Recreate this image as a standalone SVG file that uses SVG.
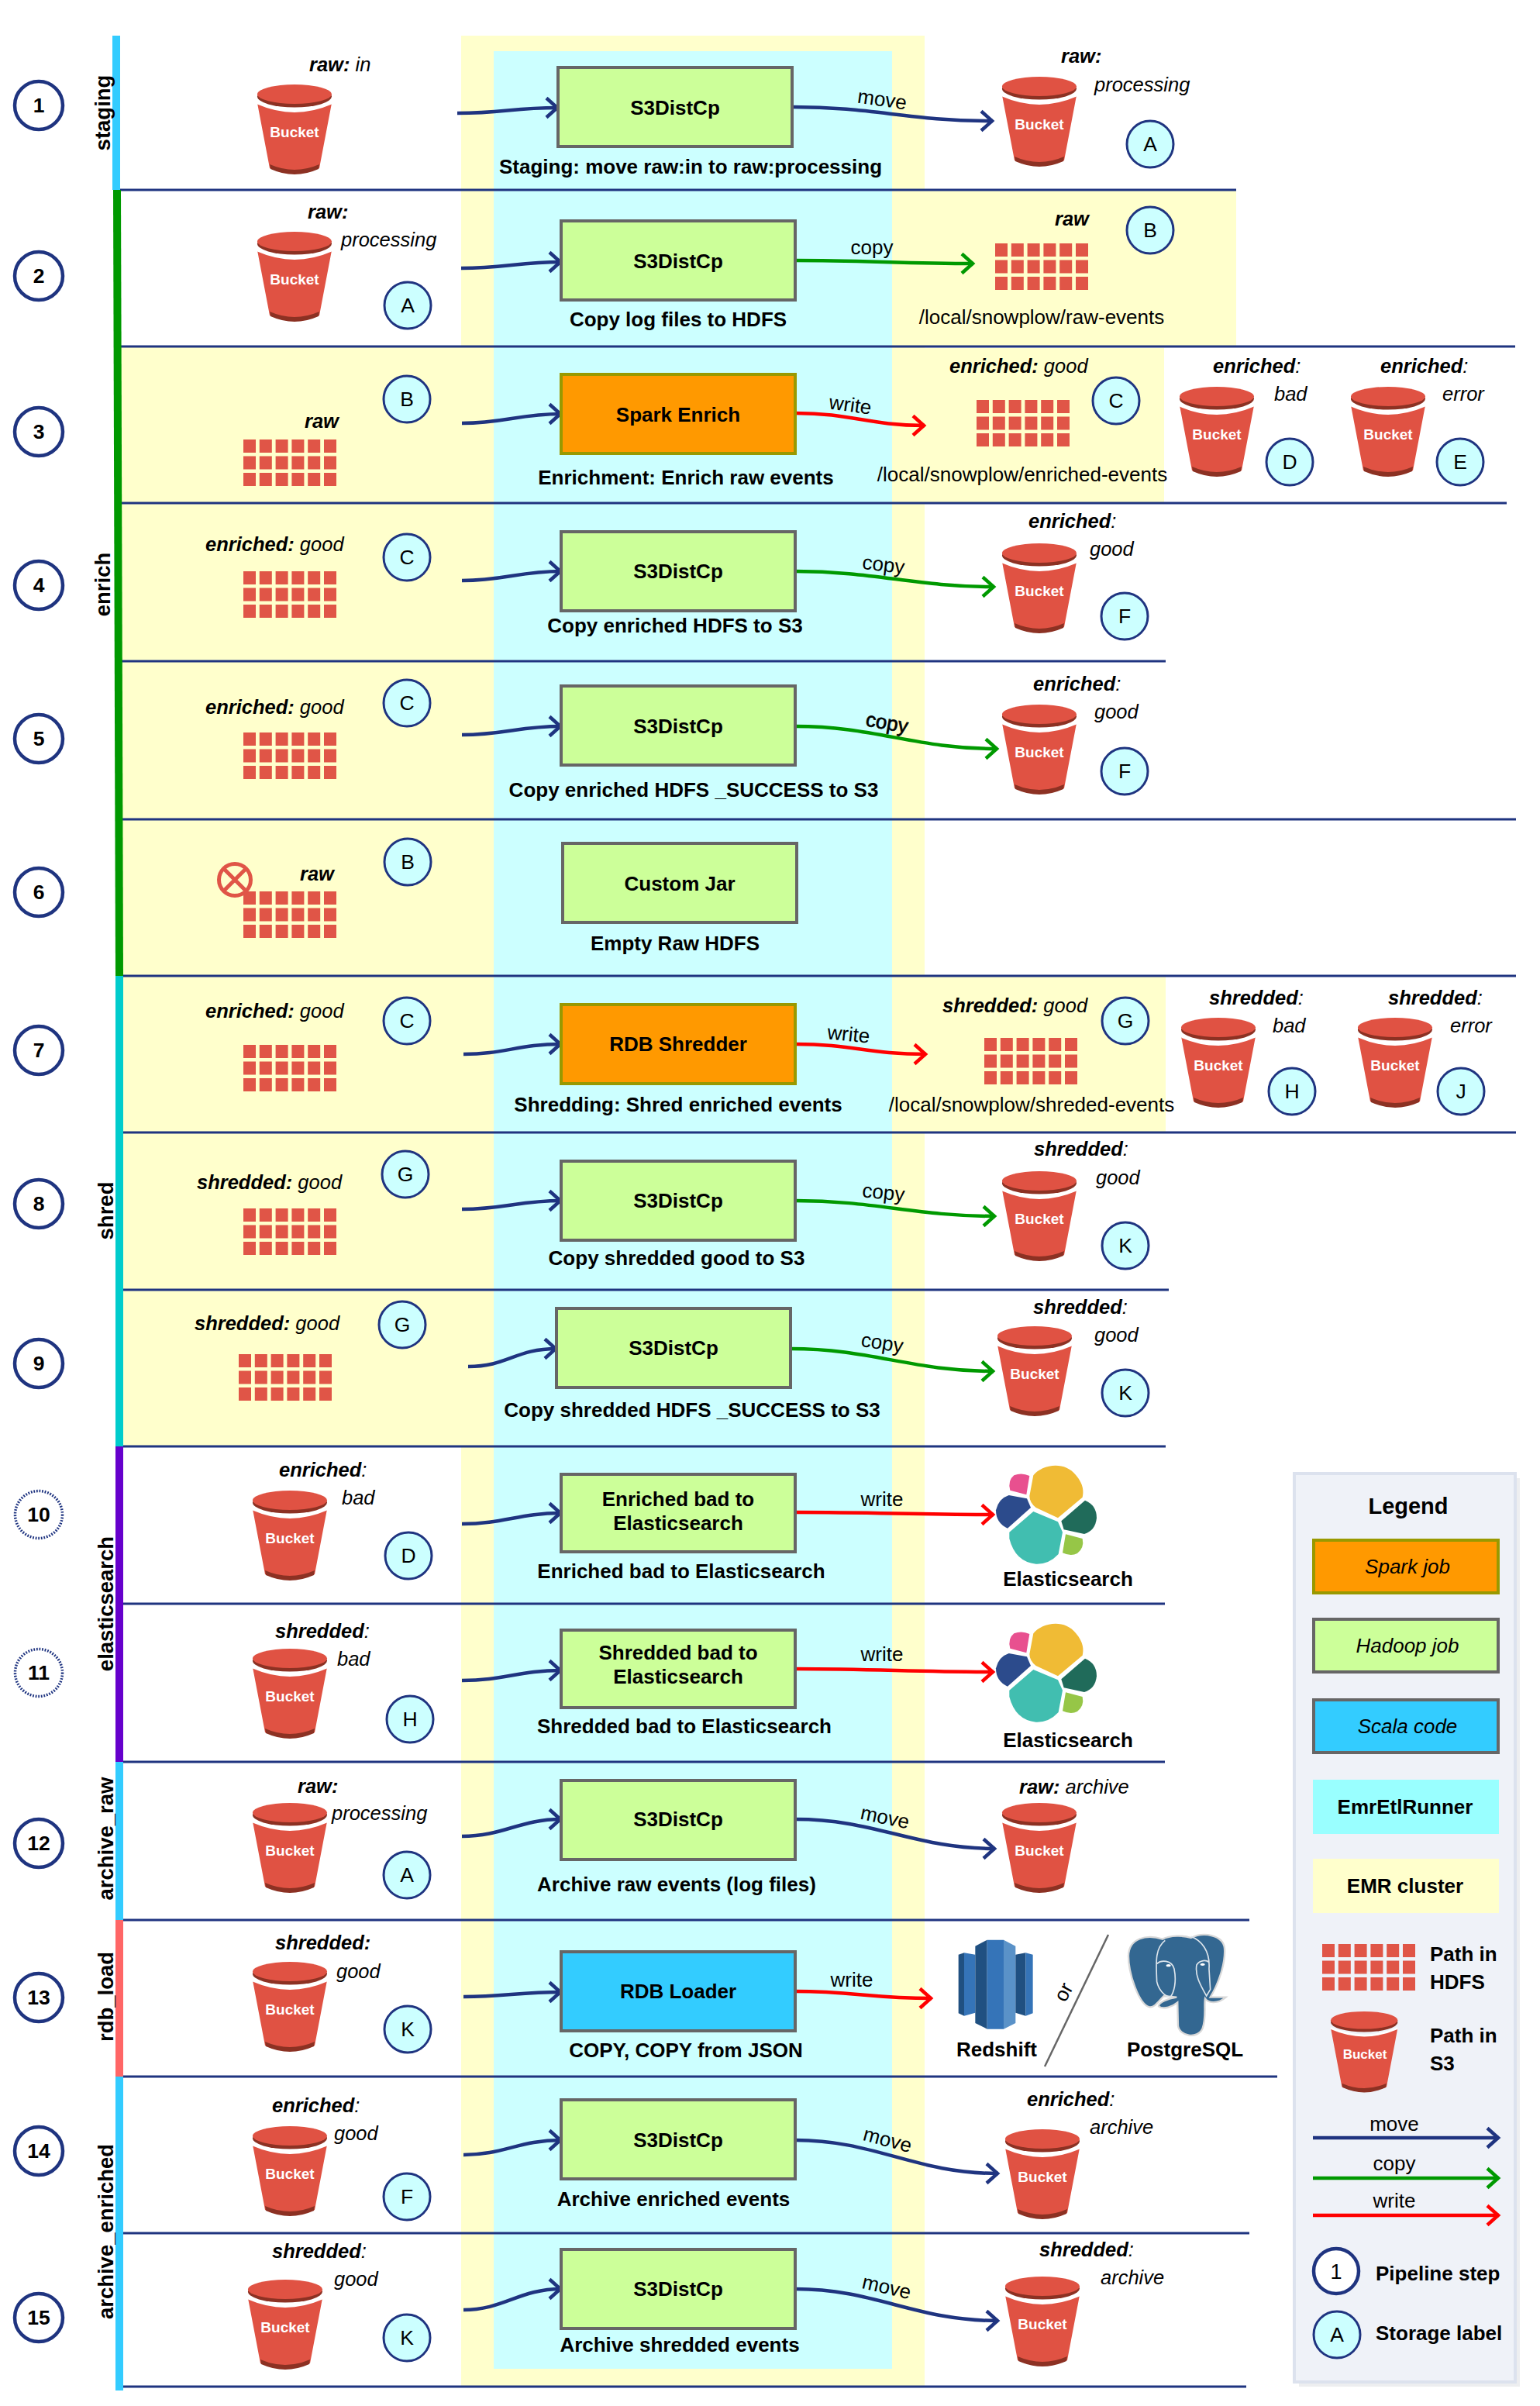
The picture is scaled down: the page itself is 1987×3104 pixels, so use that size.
<svg xmlns="http://www.w3.org/2000/svg" width="1987" height="3104" viewBox="0 0 1987 3104">
<style>
text{font-family:"Liberation Sans",Arial,sans-serif;fill:#000}
.ln{stroke:#1F3480;stroke-width:3;fill:none}
.y{fill:#FFFFCC}.c{fill:#CCFFFF}
.box{stroke-width:4}
.h{fill:#CCFF99;stroke:#666}.s{fill:#FF9900;stroke:#999900}.b{fill:#33CCFF;stroke:#666}
.t{font-size:26px;font-weight:bold;text-anchor:middle}
.sub{font-size:26px;font-weight:bold;text-anchor:middle}
.side{font-size:27.5px;font-weight:bold;text-anchor:middle}
.st{fill:#fff;stroke:#1F3480;stroke-width:4.5}
.stt{font-size:26.5px;font-weight:bold;text-anchor:middle}
.dot{stroke-width:3.5;stroke-dasharray:1.8 1.8}
.lb{fill:#CCFFFF;stroke:#1F3480;stroke-width:3}
.lbt{font-size:26.5px;text-anchor:middle}
.bk{font-size:19px;font-weight:bold;text-anchor:middle;fill:#fff}
.i{font-size:25.5px;font-style:italic}
.bi{font-weight:bold}
.e{font-size:26px;text-anchor:middle}
.mv,.cp,.wr{fill:none;stroke-width:4.5}
.mv{stroke:#1F3480;marker-end:url(#am)}.cp{stroke:#009900;marker-end:url(#ac)}.wr{stroke:#FF0000;marker-end:url(#aw)}
.lg{font-size:26px;font-weight:bold}
.lgi{font-size:26px;font-style:italic;text-anchor:middle}
</style>
<defs>
<marker id="am" markerUnits="userSpaceOnUse" viewBox="-18 -16 22 32" markerWidth="22" markerHeight="32" refX="1" refY="0" orient="auto"><path d="M-14,-12.5 L0,0 L-14,12.5" fill="none" stroke="#1F3480" stroke-width="4.5"/></marker>
<marker id="ac" markerUnits="userSpaceOnUse" viewBox="-18 -16 22 32" markerWidth="22" markerHeight="32" refX="1" refY="0" orient="auto"><path d="M-14,-12.5 L0,0 L-14,12.5" fill="none" stroke="#009900" stroke-width="4.5"/></marker>
<marker id="aw" markerUnits="userSpaceOnUse" viewBox="-18 -16 22 32" markerWidth="22" markerHeight="32" refX="1" refY="0" orient="auto"><path d="M-14,-12.5 L0,0 L-14,12.5" fill="none" stroke="#FF0000" stroke-width="4.5"/></marker>
<symbol id="bucket" width="96" height="116" viewBox="0 0 96 116" overflow="visible">
<path d="M0,24 Q48,46 96,24 L80,108 Q48,122 16,108 Z" fill="#E05243"/>
<path d="M16,103 L17,109 Q48,123 79,109 L80,103 Q48,117 16,103 Z" fill="#8C3123"/>
<path d="M0,24 Q48,45 96,24" fill="none" stroke="#fff" stroke-width="3"/>
<ellipse cx="48" cy="15.500" rx="48" ry="14" fill="#8C3123"/>
<ellipse cx="48" cy="12.500" rx="48" ry="12.500" fill="#E05243"/>
</symbol>
<symbol id="grid" width="120" height="60" viewBox="0 0 120 60"><g fill="#E05547">
<rect x="0" y="0" width="16" height="17"/><rect x="20.800" y="0" width="16" height="17"/><rect x="41.600" y="0" width="16" height="17"/><rect x="62.400" y="0" width="16" height="17"/><rect x="83.200" y="0" width="16" height="17"/><rect x="104" y="0" width="16" height="17"/>
<rect x="0" y="21.500" width="16" height="17"/><rect x="20.800" y="21.500" width="16" height="17"/><rect x="41.600" y="21.500" width="16" height="17"/><rect x="62.400" y="21.500" width="16" height="17"/><rect x="83.200" y="21.500" width="16" height="17"/><rect x="104" y="21.500" width="16" height="17"/>
<rect x="0" y="43" width="16" height="17"/><rect x="20.800" y="43" width="16" height="17"/><rect x="41.600" y="43" width="16" height="17"/><rect x="62.400" y="43" width="16" height="17"/><rect x="83.200" y="43" width="16" height="17"/><rect x="104" y="43" width="16" height="17"/>
</g></symbol>
<g id="elastic">
<path d="M400,70 C430,30 520,10 565,70 C595,105 595,135 590,155 L495,235 L410,195 Q385,175 385,150 Z" fill="#F0BB35"/>
<path d="M385,72 L373,145 L310,128 Q300,90 325,70 Q355,58 385,72Z" fill="#E8508F"/>
<path d="M305,147 L375,160 L390,195 L300,275 Q255,255 255,205 Q265,160 305,147Z" fill="#2C4B8C"/>
<path d="M400,210 L495,250 L513,290 L497,375 Q460,415 410,413 Q330,405 307,315 L307,290Z" fill="#41BEB0"/>
<path d="M600,167 Q645,185 645,235 Q640,285 597,297 L518,280 L508,247Z" fill="#206B5A"/>
<path d="M525,298 L590,315 Q598,350 570,372 Q545,385 513,370Z" fill="#96C647"/>
</g>
</defs>
<rect width="1987" height="3104" fill="#fff"/>
<g id="backgrounds">
<rect class="y" x="595" y="46" width="598" height="3033"/>
<rect class="y" x="1150" y="245" width="445" height="202"/>
<rect class="y" x="155" y="447" width="490" height="1419"/>
<rect class="y" x="1150" y="449" width="352" height="200"/>
<rect class="y" x="1150" y="1259" width="354" height="202"/>
<rect class="c" x="637" y="66" width="514" height="2990"/>
</g>
<g id="rules">
<path class="ln" d="M155,245H1595M155,447H1955M155,649H1944M155,853H1504M155,1057H1956M155,1259H1956M155,1461H1956M155,1664H1508M155,1866H1504M155,2069H1503M155,2273H1503M155,2477H1612M155,2679H1648M155,2881H1612M155,3079H1608"/>
</g>
<g id="lanes">
<rect x="145" y="46" width="10" height="199" fill="#33CCFF"/>
<path d="M146,245 L156,245 L159,1259 L149,1259 Z" fill="#009900"/>
<rect x="149" y="1259" width="10" height="607" fill="#00CCCC"/>
<rect x="149" y="1866" width="10" height="407" fill="#6600CC"/>
<rect x="149" y="2273" width="10" height="204" fill="#33CCFF"/>
<rect x="149" y="2477" width="10" height="202" fill="#FF6666"/>
<rect x="149" y="2679" width="10" height="405" fill="#33CCFF"/>
<text class="side" transform="translate(142,145.500) rotate(-90)">staging</text>
<text class="side" transform="translate(142,754) rotate(-90)">enrich</text>
<text class="side" transform="translate(146,1562) rotate(-90)">shred</text>
<text class="side" transform="translate(146,2069) rotate(-90)">elasticsearch</text>
<text class="side" transform="translate(146,2372) rotate(-90)">archive_raw</text>
<text class="side" transform="translate(146,2576) rotate(-90)">rdb_load</text>
<text class="side" transform="translate(146,2879) rotate(-90)">archive_enriched</text>
</g>
<g id="connectors">
<path class="mv" d="M590,146 C650,146 660,139 720,139"/>
<path class="mv" d="M1022,138 C1130,138 1170,156 1281,156"/>
<path class="mv" d="M595,346 C650,346 670,338 724,338"/>
<path class="cp" d="M1026,336 C1110,336 1170,340 1256,340"/>
<path class="mv" d="M596,546 C650,546 670,534 724,534"/>
<path class="wr" d="M1026,533 C1100,533 1120,549 1193,549"/>
<path class="mv" d="M596,749 C650,749 670,737 724,737"/>
<path class="cp" d="M1026,737 C1130,737 1180,757 1283,757"/>
<path class="mv" d="M596,948 C650,948 670,937 724,937"/>
<path class="cp" d="M1026,937 C1130,937 1180,966 1287,966"/>
<path class="mv" d="M598,1360 C650,1360 670,1347 724,1347"/>
<path class="wr" d="M1026,1347 C1100,1347 1120,1360 1195,1360"/>
<path class="mv" d="M596,1560 C650,1560 670,1549 724,1549"/>
<path class="cp" d="M1026,1549 C1130,1549 1180,1569 1284,1569"/>
<path class="mv" d="M604,1763 C655,1763 665,1740 718,1740"/>
<path class="cp" d="M1020,1740 C1125,1740 1175,1769 1282,1769"/>
<path class="mv" d="M596,1966 C650,1966 670,1952 724,1952"/>
<path class="wr" d="M1026,1951 C1130,1951 1180,1954 1282,1954"/>
<path class="mv" d="M596,2168 C650,2168 670,2155 724,2155"/>
<path class="wr" d="M1026,2153 C1130,2153 1180,2157 1282,2157"/>
<path class="mv" d="M596,2369 C650,2369 670,2347 724,2347"/>
<path class="mv" d="M1026,2347 C1130,2347 1180,2385 1284,2385"/>
<path class="mv" d="M598,2576 C650,2576 670,2570 724,2570"/>
<path class="wr" d="M1026,2569 C1100,2569 1125,2578 1202,2578"/>
<path class="mv" d="M598,2780 C650,2780 670,2761 724,2761"/>
<path class="mv" d="M1026,2761 C1130,2761 1180,2804 1288,2804"/>
<path class="mv" d="M598,2980 C650,2980 670,2953 724,2953"/>
<path class="mv" d="M1026,2953 C1130,2953 1180,2994 1288,2994"/>
<g id="connector-labels">
<text class="e" transform="translate(1137,137) rotate(8)">move</text>
<text class="e" transform="translate(1125,328)">copy</text>
<text class="e" transform="translate(1096,531) rotate(8)">write</text>
<text class="e" transform="translate(1139,737) rotate(7)">copy</text>
<text class="e" transform="translate(1143,941) rotate(10)" stroke="#000" stroke-width=".7">copy</text>
<text class="e" transform="translate(1094,1343) rotate(6)">write</text>
<text class="e" transform="translate(1139,1547) rotate(6)">copy</text>
<text class="e" transform="translate(1137,1741) rotate(9)">copy</text>
<text class="e" transform="translate(1138,1943)">write</text>
<text class="e" transform="translate(1138,2143)">write</text>
<text class="e" transform="translate(1140,2353) rotate(12)">move</text>
<text class="e" transform="translate(1099,2563)">write</text>
<text class="e" transform="translate(1143,2769) rotate(15)">move</text>
<text class="e" transform="translate(1142,2959) rotate(13)">move</text>
</g>
</g>
<g id="step-circles">
<g id="step-1"><circle class="st" cx="50" cy="136" r="31"/><text class="stt" x="50" y="145">1</text></g>
<g id="step-2"><circle class="st" cx="50" cy="356" r="31"/><text class="stt" x="50" y="365">2</text></g>
<g id="step-3"><circle class="st" cx="50" cy="557" r="31"/><text class="stt" x="50" y="566">3</text></g>
<g id="step-4"><circle class="st" cx="50" cy="755" r="31"/><text class="stt" x="50" y="764">4</text></g>
<g id="step-5"><circle class="st" cx="50" cy="953" r="31"/><text class="stt" x="50" y="962">5</text></g>
<g id="step-6"><circle class="st" cx="50" cy="1151" r="31"/><text class="stt" x="50" y="1160">6</text></g>
<g id="step-7"><circle class="st" cx="50" cy="1355" r="31"/><text class="stt" x="50" y="1364">7</text></g>
<g id="step-8"><circle class="st" cx="50" cy="1553" r="31"/><text class="stt" x="50" y="1562">8</text></g>
<g id="step-9"><circle class="st" cx="50" cy="1759" r="31"/><text class="stt" x="50" y="1768">9</text></g>
<g id="step-10"><circle class="st dot" cx="50" cy="1954" r="30.500"/><text class="stt" x="50" y="1963">10</text></g>
<g id="step-11"><circle class="st dot" cx="50" cy="2158" r="30.500"/><text class="stt" x="50" y="2167">11</text></g>
<g id="step-12"><circle class="st" cx="50" cy="2378" r="31"/><text class="stt" x="50" y="2387">12</text></g>
<g id="step-13"><circle class="st" cx="50" cy="2577" r="31"/><text class="stt" x="50" y="2586">13</text></g>
<g id="step-14"><circle class="st" cx="50" cy="2775" r="31"/><text class="stt" x="50" y="2784">14</text></g>
<g id="step-15"><circle class="st" cx="50" cy="2990" r="31"/><text class="stt" x="50" y="2999">15</text></g>
</g>
<g id="jobs">
<g id="job-1"><rect class="box h" x="720" y="87" width="302" height="102"/><text class="t" x="871" y="148">S3DistCp</text><text class="sub" x="891" y="224">Staging: move raw:in to raw:processing</text></g>
<g id="job-2"><rect class="box h" x="724" y="285" width="302" height="102"/><text class="t" x="875" y="346">S3DistCp</text><text class="sub" x="875" y="421">Copy log files to HDFS</text></g>
<g id="job-3"><rect class="box s" x="724" y="483" width="302" height="102"/><text class="t" x="875" y="544">Spark Enrich</text><text class="sub" x="885" y="625">Enrichment: Enrich raw events</text></g>
<g id="job-4"><rect class="box h" x="724" y="686" width="302" height="102"/><text class="t" x="875" y="746">S3DistCp</text><text class="sub" x="871" y="816">Copy enriched HDFS to S3</text></g>
<g id="job-5"><rect class="box h" x="724" y="885" width="302" height="102"/><text class="t" x="875" y="946">S3DistCp</text><text class="sub" x="895" y="1028">Copy enriched HDFS _SUCCESS to S3</text></g>
<g id="job-6"><rect class="box h" x="726" y="1088" width="302" height="102"/><text class="t" x="877" y="1149">Custom Jar</text><text class="sub" x="871" y="1226">Empty Raw HDFS</text></g>
<g id="job-7"><rect class="box s" x="724" y="1296" width="302" height="102"/><text class="t" x="875" y="1356">RDB Shredder</text><text class="sub" x="875" y="1434">Shredding: Shred enriched events</text></g>
<g id="job-8"><rect class="box h" x="724" y="1498" width="302" height="102"/><text class="t" x="875" y="1558">S3DistCp</text><text class="sub" x="873" y="1632">Copy shredded good to S3</text></g>
<g id="job-9"><rect class="box h" x="718" y="1688" width="302" height="102"/><text class="t" x="869" y="1748">S3DistCp</text><text class="sub" x="893" y="1828">Copy shredded HDFS _SUCCESS to S3</text></g>
<g id="job-10"><rect class="box h" x="724" y="1902" width="302" height="100"/><text class="t" x="875" y="1943">Enriched bad to</text><text class="t" x="875" y="1974">Elasticsearch</text><text class="sub" x="879" y="2036">Enriched bad to Elasticsearch</text></g>
<g id="job-11"><rect class="box h" x="724" y="2103" width="302" height="100"/><text class="t" x="875" y="2141">Shredded bad to</text><text class="t" x="875" y="2172">Elasticsearch</text><text class="sub" x="883" y="2236">Shredded bad to Elasticsearch</text></g>
<g id="job-12"><rect class="box h" x="724" y="2297" width="302" height="102"/><text class="t" x="875" y="2356">S3DistCp</text><text class="sub" x="873" y="2440">Archive raw events (log files)</text></g>
<g id="job-13"><rect class="box b" x="724" y="2518" width="302" height="102"/><text class="t" x="875" y="2578">RDB Loader</text><text class="sub" x="885" y="2654">COPY, COPY from JSON</text></g>
<g id="job-14"><rect class="box h" x="724" y="2709" width="302" height="102"/><text class="t" x="875" y="2770">S3DistCp</text><text class="sub" x="869" y="2846">Archive enriched events</text></g>
<g id="job-15"><rect class="box h" x="724" y="2902" width="302" height="102"/><text class="t" x="875" y="2962">S3DistCp</text><text class="sub" x="877" y="3034">Archive shredded events</text></g>
</g>
<g id="storage">
<g id="s1-raw-in"><use href="#bucket" x="332" y="109"/><text class="bk" x="380" y="177">Bucket</text><text class="i" x="399" y="92"><tspan class="bi">raw:</tspan> in</text></g>
<g id="s1-raw-processing"><use href="#bucket" x="1293" y="99"/><text class="bk" x="1341" y="167">Bucket</text><text class="i" x="1369" y="81"><tspan class="bi">raw:</tspan></text><text class="i" x="1412" y="118">processing</text><circle class="lb" cx="1484" cy="186" r="30"/><text class="lbt" x="1484" y="195">A</text></g>
<g id="s2-raw-processing"><use href="#bucket" x="332" y="299"/><text class="bk" x="380" y="367">Bucket</text><text class="i" x="397" y="282"><tspan class="bi">raw:</tspan></text><text class="i" x="440" y="318">processing</text><circle class="lb" cx="526" cy="394" r="30"/><text class="lbt" x="526" y="403">A</text></g>
<g id="s2-hdfs-raw"><use href="#grid" x="1284" y="314"/><text class="i bi" x="1361" y="291">raw</text><text class="e" x="1344" y="418">/local/snowplow/raw-events</text><circle class="lb" cx="1484" cy="297" r="30"/><text class="lbt" x="1484" y="306">B</text></g>
<g id="s3-hdfs-raw"><use href="#grid" x="314" y="567"/><text class="i bi" x="393" y="552">raw</text><circle class="lb" cx="525" cy="515" r="30"/><text class="lbt" x="525" y="524">B</text></g>
<g id="s3-hdfs-enriched"><use href="#grid" x="1260" y="516"/><text class="i" x="1225" y="481"><tspan class="bi">enriched:</tspan> good</text><text class="e" x="1319" y="621">/local/snowplow/enriched-events</text><circle class="lb" cx="1440" cy="517" r="30"/><text class="lbt" x="1440" y="526">C</text></g>
<g id="s3-bad"><use href="#bucket" x="1522" y="499"/><text class="bk" x="1570" y="567">Bucket</text><text class="i" x="1565" y="481"><tspan class="bi">enriched</tspan>:</text><text class="i" x="1644" y="517">bad</text><circle class="lb" cx="1664" cy="596" r="30"/><text class="lbt" x="1664" y="605">D</text></g>
<g id="s3-error"><use href="#bucket" x="1743" y="499"/><text class="bk" x="1791" y="567">Bucket</text><text class="i" x="1781" y="481"><tspan class="bi">enriched</tspan>:</text><text class="i" x="1861" y="517">error</text><circle class="lb" cx="1884" cy="596" r="30"/><text class="lbt" x="1884" y="605">E</text></g>
<g id="s4-hdfs"><use href="#grid" x="314" y="737"/><text class="i" x="265" y="711"><tspan class="bi">enriched:</tspan> good</text><circle class="lb" cx="525" cy="719" r="30"/><text class="lbt" x="525" y="728">C</text></g>
<g id="s4-s3"><use href="#bucket" x="1293" y="701"/><text class="bk" x="1341" y="769">Bucket</text><text class="i" x="1327" y="681"><tspan class="bi">enriched</tspan>:</text><text class="i" x="1406" y="717">good</text><circle class="lb" cx="1451" cy="795" r="30"/><text class="lbt" x="1451" y="804">F</text></g>
<g id="s5-hdfs"><use href="#grid" x="314" y="945"/><text class="i" x="265" y="921"><tspan class="bi">enriched:</tspan> good</text><circle class="lb" cx="525" cy="907" r="30"/><text class="lbt" x="525" y="916">C</text></g>
<g id="s5-s3"><use href="#bucket" x="1293" y="909"/><text class="bk" x="1341" y="977">Bucket</text><text class="i" x="1333" y="891"><tspan class="bi">enriched</tspan>:</text><text class="i" x="1412" y="927">good</text><circle class="lb" cx="1451" cy="995" r="30"/><text class="lbt" x="1451" y="1004">F</text></g>
<g id="s6-hdfs"><use href="#grid" x="314" y="1150"/><text class="i bi" x="387" y="1136">raw</text><circle class="lb" cx="526" cy="1112" r="30"/><text class="lbt" x="526" y="1121">B</text>
<g id="delete-mark" fill="none" stroke="#E05547" stroke-width="5"><circle cx="303" cy="1135" r="20.500"/><path d="M289,1121 L317,1149 M317,1121 L289,1149"/></g></g>
<g id="s7-hdfs"><use href="#grid" x="314" y="1348"/><text class="i" x="265" y="1313"><tspan class="bi">enriched:</tspan> good</text><circle class="lb" cx="525" cy="1317" r="30"/><text class="lbt" x="525" y="1326">C</text></g>
<g id="s7-hdfs-shredded"><use href="#grid" x="1270" y="1339"/><text class="i" x="1216" y="1306"><tspan class="bi">shredded:</tspan> good</text><text class="e" x="1331" y="1434">/local/snowplow/shreded-events</text><circle class="lb" cx="1452" cy="1317" r="30"/><text class="lbt" x="1452" y="1326">G</text></g>
<g id="s7-bad"><use href="#bucket" x="1524" y="1313"/><text class="bk" x="1572" y="1381">Bucket</text><text class="i" x="1560" y="1296"><tspan class="bi">shredded</tspan>:</text><text class="i" x="1642" y="1332">bad</text><circle class="lb" cx="1667" cy="1408" r="30"/><text class="lbt" x="1667" y="1417">H</text></g>
<g id="s7-error"><use href="#bucket" x="1752" y="1313"/><text class="bk" x="1800" y="1381">Bucket</text><text class="i" x="1791" y="1296"><tspan class="bi">shredded</tspan>:</text><text class="i" x="1871" y="1332">error</text><circle class="lb" cx="1885" cy="1408" r="30"/><text class="lbt" x="1885" y="1417">J</text></g>
<g id="s8-hdfs"><use href="#grid" x="314" y="1559"/><text class="i" x="254" y="1534"><tspan class="bi">shredded:</tspan> good</text><circle class="lb" cx="523" cy="1515" r="30"/><text class="lbt" x="523" y="1524">G</text></g>
<g id="s8-s3"><use href="#bucket" x="1293" y="1511"/><text class="bk" x="1341" y="1579">Bucket</text><text class="i" x="1334" y="1491"><tspan class="bi">shredded</tspan>:</text><text class="i" x="1414" y="1528">good</text><circle class="lb" cx="1452" cy="1607" r="30"/><text class="lbt" x="1452" y="1616">K</text></g>
<g id="s9-hdfs"><use href="#grid" x="308" y="1747"/><text class="i" x="251" y="1716"><tspan class="bi">shredded:</tspan> good</text><circle class="lb" cx="519" cy="1709" r="30"/><text class="lbt" x="519" y="1718">G</text></g>
<g id="s9-s3"><use href="#bucket" x="1287" y="1711"/><text class="bk" x="1335" y="1779">Bucket</text><text class="i" x="1333" y="1695"><tspan class="bi">shredded</tspan>:</text><text class="i" x="1412" y="1731">good</text><circle class="lb" cx="1452" cy="1797" r="30"/><text class="lbt" x="1452" y="1806">K</text></g>
<g id="s10-s3"><use href="#bucket" x="326" y="1923"/><text class="bk" x="374" y="1991">Bucket</text><text class="i" x="360" y="1905"><tspan class="bi">enriched</tspan>:</text><text class="i" x="441" y="1941">bad</text><circle class="lb" cx="527" cy="2007" r="30"/><text class="lbt" x="527" y="2016">D</text></g>
<g id="s10-es"><use href="#elastic" transform="translate(1200,1880) scale(.3333)"/><text class="t" x="1378" y="2046">Elasticsearch</text></g>
<g id="s11-s3"><use href="#bucket" x="326" y="2127"/><text class="bk" x="374" y="2195">Bucket</text><text class="i" x="355" y="2113"><tspan class="bi">shredded</tspan>:</text><text class="i" x="435" y="2149">bad</text><circle class="lb" cx="529" cy="2218" r="30"/><text class="lbt" x="529" y="2227">H</text></g>
<g id="s11-es"><use href="#elastic" transform="translate(1200,2084) scale(.3333)"/><text class="t" x="1378" y="2254">Elasticsearch</text></g>
<g id="s12-s3"><use href="#bucket" x="326" y="2326"/><text class="bk" x="374" y="2394">Bucket</text><text class="i" x="384" y="2313"><tspan class="bi">raw:</tspan></text><text class="i" x="428" y="2348">processing</text><circle class="lb" cx="525" cy="2419" r="30"/><text class="lbt" x="525" y="2428">A</text></g>
<g id="s12-archive"><use href="#bucket" x="1293" y="2326"/><text class="bk" x="1341" y="2394">Bucket</text><text class="i" x="1315" y="2314"><tspan class="bi">raw:</tspan> archive</text></g>
<g id="s13-s3"><use href="#bucket" x="326" y="2531"/><text class="bk" x="374" y="2599">Bucket</text><text class="i" x="355" y="2515"><tspan class="bi">shredded:</tspan></text><text class="i" x="434" y="2552">good</text><circle class="lb" cx="526" cy="2618" r="30"/><text class="lbt" x="526" y="2627">K</text></g>
<g id="s13-redshift">
<g transform="translate(1180,2480) scale(.3333)">
<path d="M170,125 L192,118 L192,362 L170,352Z" fill="#205081"/><path d="M192,118 L235,125 L235,350 L192,362Z" fill="#3574B8"/>
<path d="M235,92 L281,68 L281,413 L235,390Z" fill="#205081"/><path d="M281,68 L345,68 L345,413 L281,413Z" fill="#3574B8"/><path d="M345,68 L391,92 L391,390 L345,413Z" fill="#5A92C8"/>
<path d="M391,125 L430,118 L430,362 L391,350Z" fill="#205081"/><path d="M430,118 L458,125 L458,352 L430,362Z" fill="#3574B8"/>
</g>
<text class="t" x="1286" y="2653">Redshift</text></g>
<g id="s13-or"><path d="M1430,2496 L1348,2666" stroke="#666" stroke-width="2.500" fill="none"/><text class="e" transform="translate(1380,2574) rotate(-62)">or</text></g>
<g id="s13-postgres">
<g transform="translate(1180,2480) scale(.3333)">
<path d="M960,65 C900,45 830,60 828,130 C828,200 870,320 910,328 C930,330 945,305 965,285 L1015,290 C980,295 945,310 945,325 C965,340 1000,325 1018,310 L1020,400 C1025,440 1095,455 1115,410 C1130,370 1120,320 1125,295 C1135,310 1170,320 1205,290 L1145,290 C1175,240 1205,160 1200,100 C1195,50 1120,35 1070,60 C1040,50 990,50 960,65 Z" fill="#336791" stroke="#D8D8D8" stroke-width="7"/>
<path d="M970,70 C930,100 935,155 938,230 C945,260 965,285 990,290 C1005,270 1015,230 1005,180 C995,145 955,145 938,160 M1070,55 C1110,70 1145,110 1140,180 L1145,260 L1130,285 C1105,240 1085,205 1092,165 C1105,145 1130,145 1140,155" fill="none" stroke="#DDE5EC" stroke-width="5"/>
<ellipse cx="983" cy="167" rx="9" ry="5" fill="#fff"/><ellipse cx="1115" cy="163" rx="9" ry="5" fill="#fff"/>
</g>
<text class="t" x="1529" y="2653">PostgreSQL</text></g>
<g id="s14-s3"><use href="#bucket" x="326" y="2743"/><text class="bk" x="374" y="2811">Bucket</text><text class="i" x="351" y="2725"><tspan class="bi">enriched</tspan>:</text><text class="i" x="431" y="2761">good</text><circle class="lb" cx="525" cy="2834" r="30"/><text class="lbt" x="525" y="2843">F</text></g>
<g id="s14-archive"><use href="#bucket" x="1297" y="2747"/><text class="bk" x="1345" y="2815">Bucket</text><text class="i" x="1325" y="2717"><tspan class="bi">enriched</tspan>:</text><text class="i" x="1406" y="2753">archive</text></g>
<g id="s15-s3"><use href="#bucket" x="320" y="2941"/><text class="bk" x="368" y="3009">Bucket</text><text class="i" x="351" y="2913"><tspan class="bi">shredded</tspan>:</text><text class="i" x="431" y="2949">good</text><circle class="lb" cx="525" cy="3016" r="30"/><text class="lbt" x="525" y="3025">K</text></g>
<g id="s15-archive"><use href="#bucket" x="1297" y="2937"/><text class="bk" x="1345" y="3005">Bucket</text><text class="i" x="1341" y="2911"><tspan class="bi">shredded</tspan>:</text><text class="i" x="1420" y="2947">archive</text></g>
</g>
<g id="legend">
<rect x="1676" y="1907" width="285" height="1172" fill="#EDEEF0"/>
<rect x="1670" y="1901" width="285" height="1172" fill="#EFF2F8" stroke="#DCE2EE" stroke-width="4"/>
<text class="t" x="1817" y="1953" style="font-size:29px">Legend</text>
<rect class="box s" x="1695" y="1987" width="238" height="68"/><text class="lgi" x="1816" y="2030">Spark job</text>
<rect class="box h" x="1695" y="2089" width="238" height="68"/><text class="lgi" x="1816" y="2132">Hadoop job</text>
<rect class="box b" x="1695" y="2193" width="238" height="68"/><text class="lgi" x="1816" y="2236">Scala code</text>
<rect x="1694" y="2296" width="240" height="70" fill="#99FFFF"/><text class="t" x="1813" y="2340">EmrEtlRunner</text>
<rect x="1694" y="2398" width="240" height="70" fill="#FFFFCC"/><text class="t" x="1813" y="2442">EMR cluster</text>
<use href="#grid" x="1706" y="2508"/><text class="lg" x="1845" y="2530">Path in</text><text class="lg" x="1845" y="2566">HDFS</text>
<use href="#bucket" x="0" y="0" transform="translate(1717,2595) scale(.9)"/><text class="bk" x="1761" y="2656" style="font-size:17px">Bucket</text>
<text class="lg" x="1845" y="2635">Path in</text><text class="lg" x="1845" y="2671">S3</text>
<text class="e" x="1799" y="2749">move</text><path d="M1694,2758H1934" class="mv"/>
<text class="e" x="1799" y="2800">copy</text><path d="M1694,2810H1934" class="cp"/>
<text class="e" x="1799" y="2848">write</text><path d="M1694,2858H1934" class="wr"/>
<circle class="st" cx="1724" cy="2930" r="29"/><text x="1724" y="2940" style="font-size:27px;text-anchor:middle">1</text><text class="lg" x="1775" y="2942">Pipeline step</text>
<circle class="lb" cx="1725" cy="3012" r="30"/><text class="lbt" x="1725" y="3021">A</text><text class="lg" x="1775" y="3019">Storage label</text>
</g>
</svg>
